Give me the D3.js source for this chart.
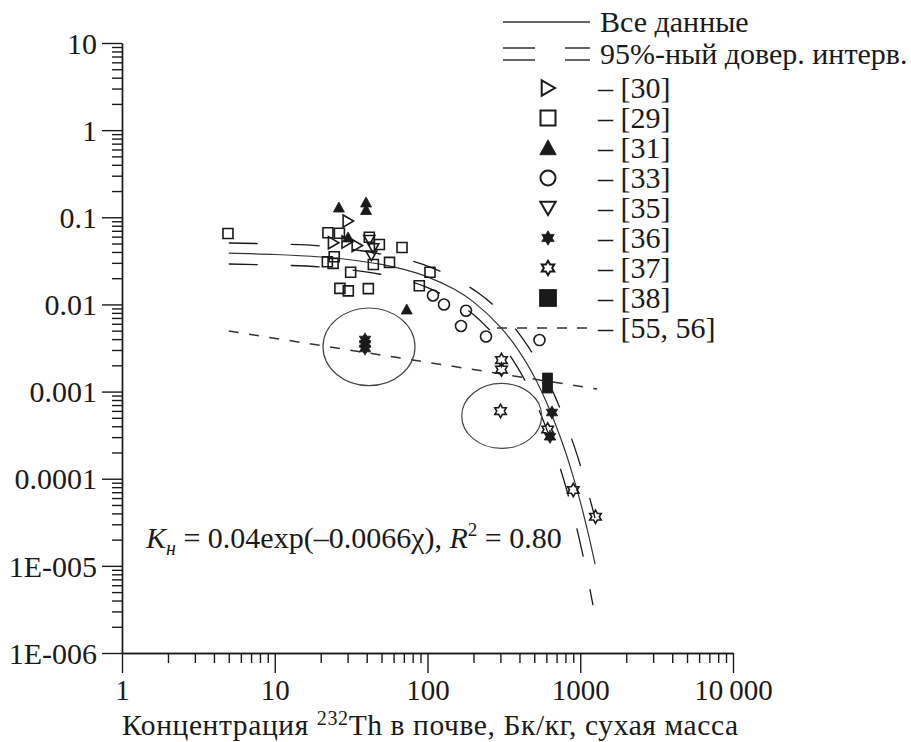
<!DOCTYPE html>
<html>
<head>
<meta charset="utf-8">
<script src="https://cdn.jsdelivr.net/npm/d3@7"></script>
<style>
  html, body { margin: 0; padding: 0; background: #fff; }
  svg { display: block; font-family: "Liberation Serif", "Times New Roman", serif; }
</style>
</head>
<body>
<div id="chart"></div>
<script>
// ---- values ----
const xTicks = [1, 10, 100, 1000, 10000];
const xTickLabels = ['1', '10', '100', '1000', '10\u2009000'];
const yTicks = [10, 1, 0.1, 0.01, 0.001, 0.0001, 1e-5, 1e-6];
const yTickLabels = ['10', '1', '0.1', '0.01', '0.001', '0.0001', '1E-005', '1E-006'];

// [x (Bq/kg), K]
const ref30 = [[30.2, 0.0906], [24.2, 0.0511], [29.7, 0.052], [34.6, 0.0474]];
const ref29 = [[4.94, 0.0652], [22.3, 0.0665], [26.5, 0.0655], [22.1, 0.0309], [24.1, 0.0296],
  [24.5, 0.0353], [26.7, 0.0153], [30.3, 0.0143], [41.0, 0.0152], [31.4, 0.0234], [44.2, 0.0287],
  [48.4, 0.0487], [41.6, 0.0589], [68.1, 0.045], [56.4, 0.0304], [88.4, 0.0164], [103.8, 0.0234]];
const ref31 = [[26.3, 0.1295], [39.6, 0.1478], [39.6, 0.1212], [30.2, 0.0587], [73.1, 0.00874]];
const ref33 = [[108.6, 0.01266], [128.2, 0.00998], [178.7, 0.00847], [165.7, 0.00565],
  [241.5, 0.00428], [541, 0.0039]];
const ref35 = [[41.6, 0.0549], [44.2, 0.0441], [42.9, 0.0364]];
const ref36 = [[39.0, 0.00396], [39.0, 0.00352], [39.0, 0.00312], [653, 0.000575], [634, 0.000303]];
const ref37 = [[305, 0.0023], [305, 0.00179], [300.6, 0.000598], [612, 0.000367],
  [900.5, 0.0000742], [1258, 0.0000366]];
const ref38 = [[610.5, 0.00143], [610.5, 0.0011]];

// fitted curve K = 0.04exp(-0.0066x) and its 95% band
const fitLine = [[5, 0.0387], [10, 0.0374], [20, 0.035], [30, 0.0328], [50, 0.0288], [70, 0.0252],
  [100, 0.0207], [150, 0.0149], [200, 0.0107], [300, 0.0055], [400, 0.00286], [500, 0.00148],
  [600, 0.00076], [700, 0.00039], [800, 0.000204], [900, 0.000105], [1000, 0.0000545],
  [1100, 0.0000282], [1200, 0.0000146], [1250, 0.0000105]];
const ciUpper = [[5, 0.0507], [10, 0.0494], [20, 0.0468], [51, 0.0375], [106, 0.0265], [220, 0.0132],
  [336, 0.00663], [454, 0.00332], [571, 0.00168], [689, 0.000852], [923, 0.000223],
  [1157, 0.0000587], [1249, 0.0000354]];
const ciLower = [[5, 0.0291], [10, 0.0283], [20, 0.0269], [49, 0.0222], [95, 0.0162], [182, 0.00872],
  [268, 0.00463], [353, 0.00247], [438, 0.00131], [523, 0.000686], [693, 0.000188],
  [865, 0.0000511], [1036, 0.0000138], [1212, 0.00000355]];
const ref5556 = [[5, 0.00495], [1290, 0.00107]];

// circled groups: [x0, x1, Ktop, Kbottom]
const ellipses = [[20.7, 82.8, 0.0091, 0.00117], [167.5, 559, 0.00124, 0.000223]];

const legendLines = ['Все данные', '95%-ный довер. интерв.'];
const legendRefs = ['– [30]', '– [29]', '– [31]', '– [33]', '– [35]', '– [36]', '– [37]', '– [38]', '– [55, 56]'];

// ---- drawing ----
const W = 911, H = 742;
const svg = d3.select('#chart').append('svg').attr('width', W).attr('height', H);

const x = d3.scaleLog().domain([1, 10000]).range([122, 733]);
const y = d3.scaleLog().domain([1e-6, 10]).range([653, 43]);

const ink = '#1a1a1a';
const serif = '"Liberation Serif", "Times New Roman", serif';

// minor ticks 2..9 in each decade
const minorX = [], minorY = [];
for (let e = 0; e < 4; e++) for (let k = 2; k <= 9; k++) minorX.push(k * 10 ** e);
for (let e = -6; e < 1; e++) for (let k = 2; k <= 9; k++) minorY.push(k * 10 ** e);

function styleAxis(g, size){
  g.attr('font-family', serif);
  g.selectAll('path,line').attr('stroke', ink).attr('stroke-width', 1.4);
  g.selectAll('text').attr('fill', ink).attr('font-family', serif).attr('font-size', size || 30);
}

svg.append('g').attr('transform', 'translate(122,0)')
  .call(d3.axisLeft(y).tickValues(minorY).tickSize(10).tickSizeOuter(0).tickFormat(''))
  .call(styleAxis);
svg.append('g').attr('transform', 'translate(122,0)')
  .call(d3.axisLeft(y).tickValues(yTicks).tickSize(20).tickSizeOuter(0).tickPadding(5)
    .tickFormat((d, i) => yTickLabels[i]))
  .call(styleAxis)
  .call(g => g.selectAll('text').attr('dy', '0.34em'));

svg.append('g').attr('transform', 'translate(0,653)')
  .call(d3.axisBottom(x).tickValues(minorX).tickSize(10).tickSizeOuter(0).tickFormat(''))
  .call(styleAxis);
svg.append('g').attr('transform', 'translate(0,653)')
  .call(d3.axisBottom(x).tickValues(xTicks).tickSize(20).tickSizeOuter(0).tickPadding(6)
    .tickFormat((d, i) => xTickLabels[i]))
  .call(g => styleAxis(g, 29));

// axis title
const title = svg.append('text').attr('x', 122).attr('y', 735)
  .attr('font-size', 29.5).attr('letter-spacing', 0.6).attr('fill', ink);
title.append('tspan').text('Концентрация ');
title.append('tspan').attr('font-size', 20).attr('dy', -10).text('232');
title.append('tspan').attr('dy', 10).text('Th в почве, Бк/кг, сухая масса');

// lines
const line = d3.line().x(d => x(d[0])).y(d => y(d[1])).curve(d3.curveCatmullRom);

svg.append('path').datum(fitLine).attr('d', line)
  .attr('fill', 'none').attr('stroke', '#333').attr('stroke-width', 1.2);
[ciUpper, ciLower].forEach(band => {
  svg.append('path').datum(band).attr('d', line)
    .attr('fill', 'none').attr('stroke', ink).attr('stroke-width', 1.3)
    .attr('stroke-dasharray', '29 33');
});
svg.append('path').datum(ref5556).attr('d', d3.line().x(d => x(d[0])).y(d => y(d[1])))
  .attr('fill', 'none').attr('stroke', '#333').attr('stroke-width', 1.5)
  .attr('stroke-dasharray', '10 10.5');

// ellipses
svg.selectAll('ellipse.grp').data(ellipses).join('ellipse')
  .attr('cx', d => (x(d[0]) + x(d[1])) / 2)
  .attr('cy', d => (y(d[2]) + y(d[3])) / 2)
  .attr('rx', d => (x(d[1]) - x(d[0])) / 2)
  .attr('ry', d => (y(d[3]) - y(d[2])) / 2)
  .attr('fill', 'none').attr('stroke', '#444').attr('stroke-width', 1.2);

// marker shapes
function hexagram(R){
  const pts = d3.range(12).map(i => {
    const r = i % 2 ? R / Math.sqrt(3) : R;
    const a = -Math.PI / 2 + i * Math.PI / 6;
    return [r * Math.cos(a), r * Math.sin(a)];
  });
  return 'M' + pts.map(p => p.join(',')).join('L') + 'Z';
}
const shapes = {
  square: s => `M${-s/2},${-s/2}h${s}v${s}h${-s}Z`,
  triUp: s => `M0,${-s*0.55}L${s*0.55},${s*0.45}L${-s*0.55},${s*0.45}Z`,
  triRight: s => `M${-s*0.45},${-s*0.55}L${s*0.5},0L${-s*0.45},${s*0.55}Z`,
  triDown: s => `M${-s*0.55},${-s*0.45}L${s*0.55},${-s*0.45}L0,${s*0.5}Z`,
  circle: s => d3.arc()({innerRadius: 0, outerRadius: s/2, startAngle: 0, endAngle: 2 * Math.PI}),
  star: s => hexagram(s * 0.6)
};

const series = [
  {data: ref30, shape: 'triRight', filled: false, size: 11, lsize: 14},
  {data: ref29, shape: 'square', filled: false, size: 10, lsize: 15},
  {data: ref31, shape: 'triUp', filled: true, size: 10, lsize: 15},
  {data: ref33, shape: 'circle', filled: false, size: 11, lsize: 15},
  {data: ref35, shape: 'triDown', filled: false, size: 10, lsize: 14},
  {data: ref36, shape: 'star', filled: true, size: 11, lsize: 12},
  {data: ref37, shape: 'star', filled: false, size: 11, lsize: 12},
  {data: ref38, shape: 'square', filled: true, size: 10, lsize: 17}
];

series.forEach(s => {
  svg.append('g').selectAll('path').data(s.data).join('path')
    .attr('transform', d => `translate(${x(d[0])},${y(d[1])})`)
    .attr('d', shapes[s.shape](s.size))
    .attr('fill', s.filled ? ink : 'none')
    .attr('stroke', ink).attr('stroke-width', s.filled ? 0.8 : 1.6)
    .attr('stroke-linejoin', 'miter');
});

// legend
const lg = svg.append('g');
lg.append('line').attr('x1', 503).attr('x2', 590).attr('y1', 22).attr('y2', 22)
  .attr('stroke', '#666').attr('stroke-width', 2);
[48, 60].forEach(yy => {
  lg.append('line').attr('x1', 503).attr('x2', 590).attr('y1', yy).attr('y2', yy)
    .attr('stroke', '#666').attr('stroke-width', 2).attr('stroke-dasharray', '32 30');
});
lg.selectAll('text.ln').data(legendLines).join('text')
  .attr('x', 600).attr('y', (d, i) => 32 + i * 32)
  .attr('font-size', 30).attr('fill', ink).text(d => d);

const rowY = i => 88 + i * 30;
series.forEach((s, i) => {
  lg.append('path').attr('transform', `translate(548,${rowY(i)})`)
    .attr('d', shapes[s.shape](s.lsize))
    .attr('fill', s.filled ? ink : 'none')
    .attr('stroke', ink).attr('stroke-width', s.filled ? 0.8 : 2);
});
lg.append('line').attr('x1', 497).attr('x2', 592).attr('y1', rowY(8)).attr('y2', rowY(8))
  .attr('stroke', '#333').attr('stroke-width', 1.5).attr('stroke-dasharray', '10 10');
lg.selectAll('text.ref').data(legendRefs).join('text')
  .attr('x', 598).attr('y', (d, i) => rowY(i) + 10)
  .attr('font-size', 30).attr('fill', ink).text(d => d);

// equation
const eq = svg.append('text').attr('x', 146).attr('y', 548).attr('font-size', 30).attr('fill', ink);
eq.append('tspan').attr('font-style', 'italic').text('K');
eq.append('tspan').attr('font-style', 'italic').attr('font-size', 20).attr('dy', 7).text('н');
eq.append('tspan').attr('dy', -7).text(' = 0.04exp(–0.0066χ), ');
eq.append('tspan').attr('font-style', 'italic').text('R');
eq.append('tspan').attr('font-size', 19).attr('dy', -12).text('2');
eq.append('tspan').attr('dy', 12).text(' = 0.80');
</script>
</body>
</html>
